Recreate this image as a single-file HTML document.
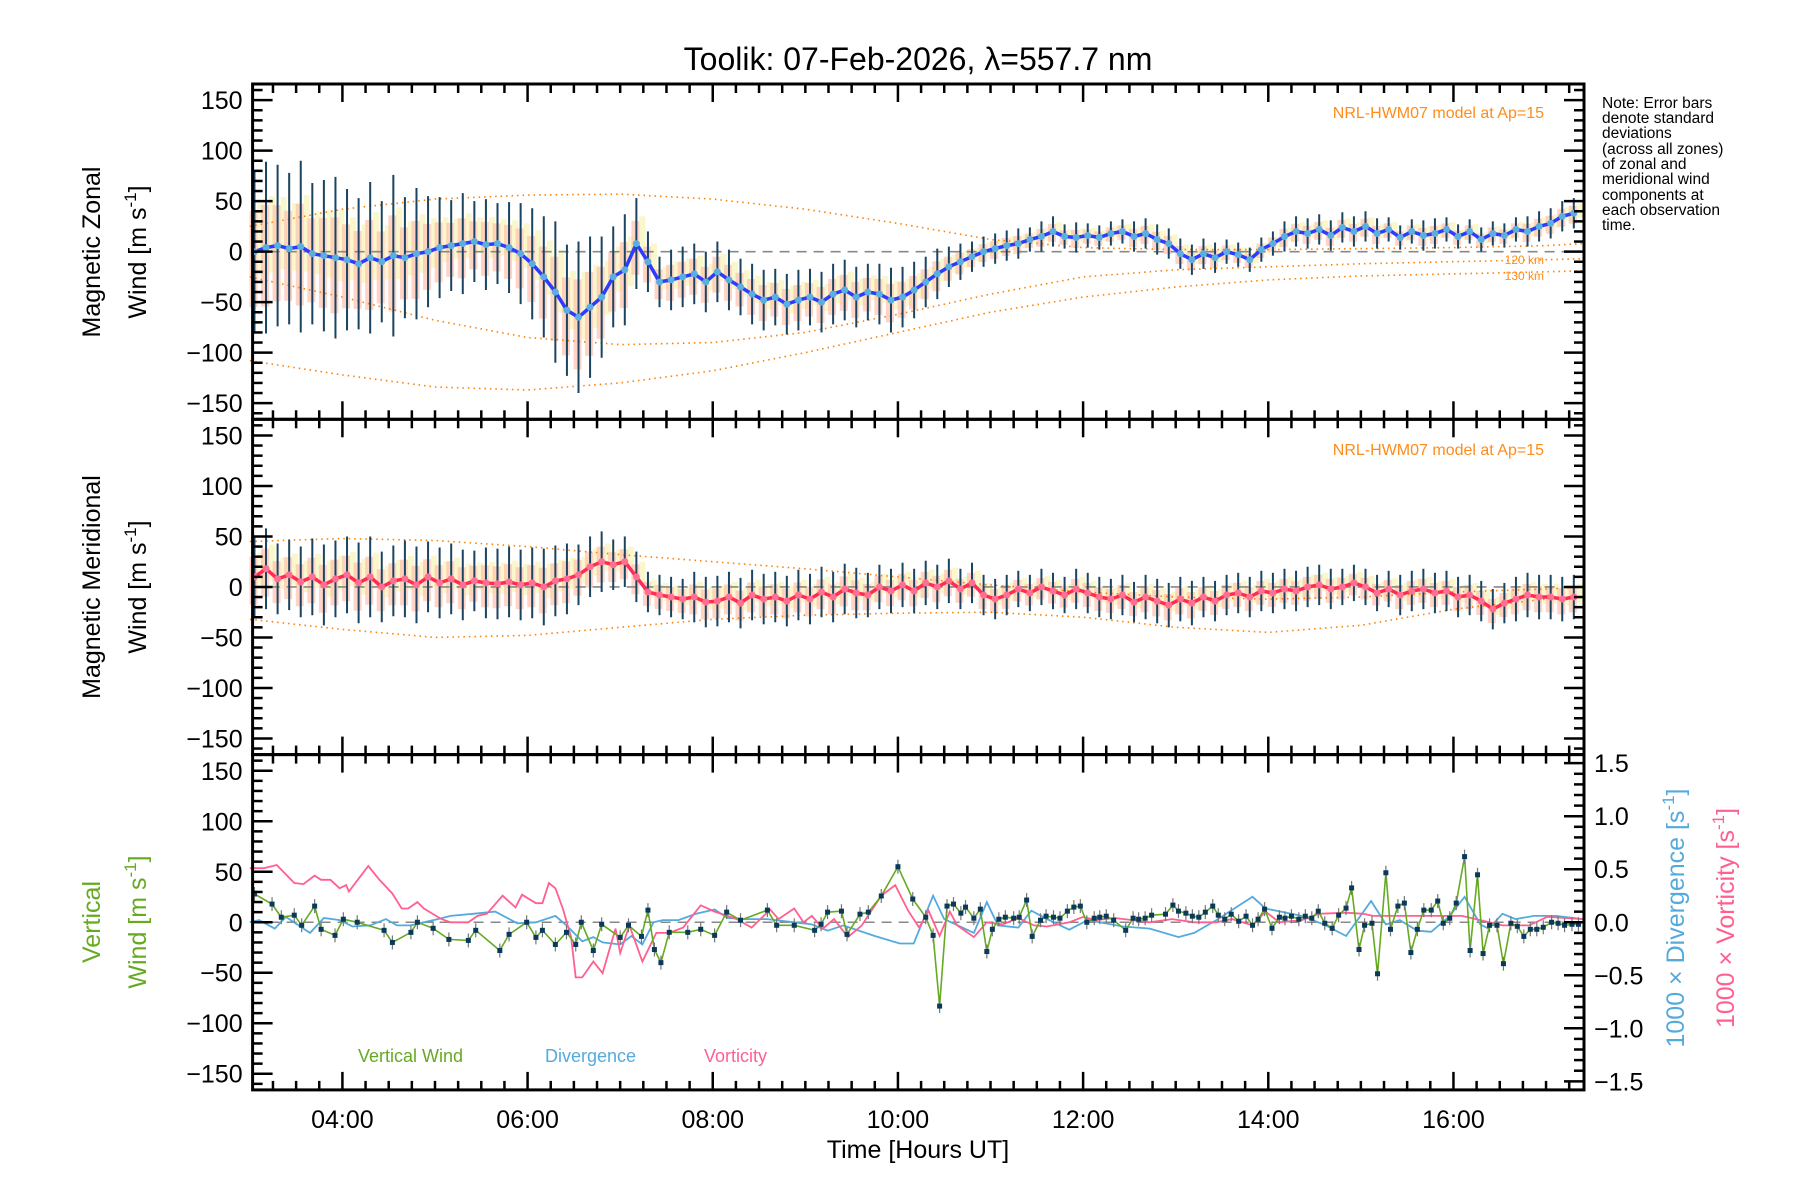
<!DOCTYPE html>
<html><head><meta charset="utf-8"><style>
html,body{margin:0;padding:0;background:#fff;}
svg{display:block;font-family:"Liberation Sans",sans-serif;}
</style></head><body>
<svg id="chart" width="1800" height="1200" viewBox="0 0 1800 1200" xmlns="http://www.w3.org/2000/svg">
<rect x="0" y="0" width="1800" height="1200" fill="#fff"/>
<text x="918" y="70" font-size="32" text-anchor="middle" fill="#000">Toolik: 07-Feb-2026, λ=557.7 nm</text>
<g id="layer-shade"></g><g id="layer-model"></g><g id="layer-err"></g><g id="layer-lines"></g><g id="layer-axes"></g>
<text transform="translate(100,252) rotate(-90)" font-size="25" text-anchor="middle">Magnetic Zonal</text>
<text transform="translate(146,252) rotate(-90)" font-size="25" text-anchor="middle">Wind [m s<tspan dy="-10" font-size="17">-1</tspan><tspan dy="10">]</tspan></text>
<text transform="translate(100,587) rotate(-90)" font-size="25" text-anchor="middle">Magnetic Meridional</text>
<text transform="translate(146,587) rotate(-90)" font-size="25" text-anchor="middle">Wind [m s<tspan dy="-10" font-size="17">-1</tspan><tspan dy="10">]</tspan></text>
<text transform="translate(100,922) rotate(-90)" font-size="25" text-anchor="middle" fill="#66aa22">Vertical</text>
<text transform="translate(146,922) rotate(-90)" font-size="25" text-anchor="middle" fill="#66aa22">Wind [m s<tspan dy="-10" font-size="17">-1</tspan><tspan dy="10">]</tspan></text>
<text transform="translate(1684,918) rotate(-90)" font-size="25" text-anchor="middle" fill="#55aadd">1000 × Divergence [s<tspan dy="-10" font-size="17">-1</tspan><tspan dy="10">]</tspan></text>
<text transform="translate(1734,918) rotate(-90)" font-size="25" text-anchor="middle" fill="#ff6090">1000 × Vorticity [s<tspan dy="-10" font-size="17">-1</tspan><tspan dy="10">]</tspan></text>
<text x="918" y="1158" font-size="25" text-anchor="middle">Time [Hours UT]</text>
<text x="1544" y="118" font-size="16" text-anchor="end" fill="#ff8c1a">NRL-HWM07 model at Ap=15</text>
<text x="1544" y="455" font-size="16" text-anchor="end" fill="#ff8c1a">NRL-HWM07 model at Ap=15</text>
<text x="1544" y="264" font-size="12" text-anchor="end" fill="#ff8c1a">120 km</text>
<text x="1544" y="280" font-size="12" text-anchor="end" fill="#ff8c1a">130 km</text>
<g font-size="15.5" fill="#000">
<text x="1602" y="108">Note: Error bars</text><text x="1602" y="123">denote standard</text><text x="1602" y="138">deviations</text><text x="1602" y="154">(across all zones)</text><text x="1602" y="169">of zonal and</text><text x="1602" y="184">meridional wind</text><text x="1602" y="200">components at</text><text x="1602" y="215">each observation</text><text x="1602" y="230">time.</text>
</g>
<text x="358" y="1062" font-size="18" fill="#66aa22">Vertical Wind</text>
<text x="545" y="1062" font-size="18" fill="#55aadd">Divergence</text>
<text x="704" y="1062" font-size="18" fill="#ff6090">Vorticity</text>
</svg>
<script>
const zonalTimeStart = 3.05, zonalTimeStep = 0.125;
const zonalValues = [0,4,6,3,5,-2,-4,-6, -8,-12,-6,-10,-4,-6,-2,0, 4,6,8,10,7,8,4,-2, -12,-25,-40,-58,-65,-55,-45,-25, -18,8,-10,-30,-28,-25,-22,-30, -20,-28,-35,-42,-48,-45,-52,-48, -45,-50,-42,-38,-45,-40,-42,-48, -45,-38,-30,-22,-15,-10,-5,0, 3,6,8,12,15,20,15,14, 16,14,18,20,15,18,12,8, -2,-8,-2,-6,0,-3,-8,2, 8,15,20,18,22,16,24,20, 25,18,22,14,20,16,18,22, 15,20,12,18,16,22,20,25, 28,35,38];
const zonalErrors = [80,85,80,75,85,70,75,80, 70,65,75,60,80,60,65,55, 50,45,50,40,45,40,45,50, 55,60,70,65,75,70,60,50, 55,45,30,25,30,30,30,30, 30,30,28,30,30,28,30,30, 28,30,30,30,30,28,30,32, 30,28,25,25,20,18,15,15, 15,15,15,12,15,15,12,15, 12,12,12,12,15,15,15,15, 15,15,15,15,12,12,12,12, 12,15,15,15,15,15,15,15, 15,15,12,12,12,15,15,12, 12,12,12,12,12,12,15,15, 15,15,15];
const meridValues = [10,18,8,12,5,10,2,8, 12,4,10,0,6,8,2,10, 4,8,2,6,4,3,5,2, 4,0,6,8,12,20,25,22, 25,10,-5,-8,-10,-12,-10,-15, -14,-10,-16,-8,-12,-10,-14,-8, -12,-5,-10,-2,-6,-8,0,-4, 2,-4,4,0,6,-2,4,-8, -12,-8,-2,-6,0,-4,-8,-2, -6,-10,-12,-8,-15,-10,-14,-18, -12,-16,-10,-14,-8,-6,-10,-4, -6,-2,-4,0,2,-2,0,4, 0,-6,-2,-8,-4,-2,-6,-4, -10,-8,-14,-22,-16,-12,-8,-10, -10,-12,-10];
const meridErrors = [40,40,35,35,35,38,40,38, 38,40,40,35,35,38,38,35, 35,35,35,30,35,35,35,35, 35,38,35,35,30,30,30,25, 25,25,20,20,20,20,25,25, 25,25,25,25,25,25,25,25, 25,25,25,25,25,22,22,22, 22,22,22,22,22,20,20,20, 20,20,18,18,18,18,18,20, 20,20,20,20,20,22,22,22, 22,22,20,20,20,20,20,20, 20,20,20,20,20,20,18,18, 18,18,18,20,20,20,20,20, 20,20,20,20,20,22,22,22, 22,22,22];
const modelTimes = [3,4,5,6,7,8,9,10,11,12,13,14,15,16,17,17.4];
const zonalModelA = [25,42,52,56,57,52,42,28,12,4,2,2,3,4,6,8];
const zonalModelB = [-25,-45,-68,-85,-92,-90,-80,-62,-42,-25,-18,-15,-12,-10,-8,-7];
const zonalModelC = [-108,-122,-134,-137,-130,-118,-100,-80,-60,-45,-35,-28,-24,-22,-20,-19];
const meridModelA = [45,48,46,40,32,25,18,10,2,-5,-10,-12,-10,-5,-2,0];
const meridModelB = [-32,-42,-50,-48,-40,-32,-28,-26,-25,-30,-40,-45,-38,-22,-12,-10];
const vertTimes = [3.05,3.24,3.34,3.48,3.56,3.70,3.77,3.92,4.01,4.16,4.45,4.54,4.74,4.81,4.98,5.15,5.36,5.44,5.70,5.80,5.99,6.09,6.16,6.30,6.42,6.52,6.58,6.71,6.80,7.00,7.09,7.23,7.30,7.37,7.44,7.53,7.73,7.87,8.02,8.15,8.30,8.59,8.69,8.88,9.10,9.17,9.24,9.39,9.45,9.59,9.68,9.82,10.00,10.16,10.30,10.38,10.45,10.53,10.60,10.68,10.73,10.82,10.89,10.96,11.02,11.09,11.16,11.25,11.31,11.39,11.45,11.54,11.60,11.68,11.75,11.83,11.90,11.97,12.04,12.12,12.18,12.25,12.33,12.46,12.54,12.60,12.67,12.74,12.89,12.97,13.03,13.11,13.18,13.25,13.32,13.40,13.46,13.53,13.60,13.68,13.76,13.83,13.89,13.96,14.04,14.12,14.18,14.25,14.33,14.40,14.47,14.54,14.61,14.69,14.76,14.84,14.90,14.98,15.04,15.12,15.18,15.27,15.32,15.40,15.47,15.54,15.61,15.68,15.76,15.83,15.89,15.96,16.03,16.12,16.18,16.26,16.32,16.39,16.47,16.54,16.62,16.69,16.76,16.83,16.90,16.97,17.06,17.13,17.20,17.28,17.35];
const vertValues = [28,18,5,7,-3,16,-7,-13,3,0,-8,-20,-10,0,-6,-17,-18,-8,-28,-12,0,-15,-8,-22,-10,-22,0,-28,-2,-15,-3,-14,12,-27,-40,-10,-10,-7,-13,10,2,12,-3,-3,-8,-2,10,11,-12,8,10,26,55,23,5,-13,-83,16,18,9,15,4,13,-29,-7,3,5,4,5,22,-14,2,6,5,4,11,15,16,0,4,5,6,2,-8,4,3,4,7,8,17,11,9,6,5,10,16,7,3,8,1,6,-3,3,13,-6,5,4,6,3,6,4,11,-1,-6,7,14,34,-27,-3,-1,-51,49,-7,16,19,-30,-7,12,12,21,-1,4,19,65,-28,47,-31,-3,-3,-41,-1,-4,-14,-7,-7,-5,0,-1,-3,-2,-2];
const divTimes = [3.00,3.10,3.27,3.39,3.51,3.65,3.80,3.97,4.11,4.30,4.47,4.59,4.74,4.88,5.03,5.17,5.41,5.65,5.89,6.09,6.30,6.42,6.59,6.71,6.81,7.00,7.12,7.24,7.36,7.46,7.63,7.82,8.02,8.16,8.35,8.59,8.88,9.07,9.24,9.41,9.75,10.02,10.17,10.38,10.50,10.82,10.96,11.08,11.30,11.44,11.61,11.85,12.05,12.43,12.72,13.03,13.20,13.44,13.83,13.97,14.36,14.60,14.84,15.11,15.27,15.42,15.61,15.76,15.95,16.12,16.29,16.38,16.53,16.67,16.87,17.11,17.40];
const divValues = [0,0.02,-0.06,0.05,-0.02,-0.1,0.04,0.02,-0.04,-0.03,0.03,-0.03,-0.03,0,0.03,0.06,0.08,0.1,-0.01,0,0.06,-0.03,-0.18,-0.14,-0.19,-0.21,-0.13,-0.21,0,0.02,0.02,0.08,0.12,0.04,0.03,0.03,0,-0.02,-0.08,-0.03,-0.13,-0.2,-0.2,0.25,0.03,-0.1,0.19,-0.03,-0.05,0.11,0.03,-0.07,0.02,-0.04,-0.06,-0.14,-0.1,0.02,0.24,0.13,0.06,-0.02,-0.13,0.2,-0.02,0.02,-0.08,-0.09,0.05,0.24,-0.02,-0.06,0.08,0.03,0.06,0.06,0.03];
const vortTimes = [3.00,3.15,3.29,3.48,3.58,3.70,3.77,3.87,3.97,4.04,4.07,4.28,4.40,4.54,4.64,4.71,4.81,4.88,5.07,5.17,5.36,5.46,5.56,5.73,5.87,5.94,6.09,6.16,6.23,6.30,6.38,6.47,6.52,6.59,6.71,6.81,6.95,7.00,7.10,7.24,7.39,7.53,7.68,7.87,8.02,8.16,8.26,8.42,8.62,8.71,8.88,8.98,9.07,9.19,9.31,9.46,9.61,9.82,9.97,10.11,10.23,10.33,10.45,10.56,10.64,10.82,10.96,11.13,11.30,11.47,11.61,11.85,12.00,12.14,12.34,12.53,12.72,12.96,13.20,13.44,13.61,13.83,13.97,14.12,14.36,14.55,14.84,15.03,15.13,15.42,15.66,16.09,16.29,16.53,16.82,17.01,17.40];
const vortValues = [0.51,0.51,0.54,0.37,0.36,0.44,0.40,0.40,0.32,0.35,0.29,0.53,0.40,0.27,0.13,0.13,0.19,0.13,0.03,0,0,0.06,0.08,0.25,0.14,0.26,0.18,0.18,0.37,0.32,0.13,-0.14,-0.52,-0.52,-0.37,-0.48,-0.06,-0.29,-0.03,-0.37,-0.1,-0.1,-0.05,0.16,0.10,0.06,0.03,-0.05,0.12,0.03,0.13,0,0.06,-0.06,0.03,-0.14,-0.03,0.25,0.35,0.11,-0.05,0.11,-0.13,0.1,-0.03,-0.14,0,-0.02,0.04,-0.03,-0.04,0,0.05,0.02,0.04,0.02,0,0.03,0,0,0.03,-0.03,0.10,0,0.02,0.08,0.09,0.08,0.06,0.06,0.06,0.06,0.02,-0.03,-0.03,0.05,0.03];
const xTickLabels = ["04:00","06:00","08:00","10:00","12:00","14:00","16:00"];
const yTickLabels = ["150","100","50","0","−50","−100","−150"];
const rightTickLabels = ["1.5","1.0","0.5","0.0","−0.5","−1.0","−1.5"];

const NS="http://www.w3.org/2000/svg";
const L=252.6,R=1584,T0=84,PH=335.3,XMIN=3.03,XMAX=17.41,YR=166;
const panelTops=[T0,T0+PH,T0+2*PH];
function xs(t){return L+(t-XMIN)/(XMAX-XMIN)*(R-L);}
function ys(p,v){return panelTops[p]+PH/2-v/YR*(PH/2);}
function yr(v){return ys(2,v*105);}
function mk(tag,attrs,parent){const e=document.createElementNS(NS,tag);for(const k in attrs)e.setAttribute(k,attrs[k]);parent.appendChild(e);return e;}
const gS=document.getElementById('layer-shade'),gM=document.getElementById('layer-model'),gE=document.getElementById('layer-err'),gL=document.getElementById('layer-lines'),gA=document.getElementById('layer-axes');
function polyPts(ts,vs,fy){return ts.map((t,i)=>xs(t).toFixed(1)+','+fy(vs[i]).toFixed(1)).join(' ');}
const zonalTimes=zonalValues.map((v,i)=>zonalTimeStart+i*zonalTimeStep);

function drawWind(p,vals,errs,lineColor,dotColor){
  const fy=v=>ys(p,v);
  vals.forEach((v,i)=>{
    const x=xs(zonalTimes[i]);
    let r=mk('rect',{x:x-5,y:fy(v+errs[i]*0.5),width:8,height:errs[i]*1.2,fill:'#ffb8a0',opacity:0.6},gS);
    
    
    let r2=mk('rect',{x:x+3,y:fy(v+errs[i]*0.6),width:6,height:errs[i]*0.9,fill:'#f4f0a0',opacity:0.55},gS);
    
    
    let e=mk('line',{x1:x,x2:x,y1:fy(v+errs[i]),y2:fy(v-errs[i]),stroke:'#1a4460','stroke-width':2},gE);
    
    
  });
  let pl=mk('polyline',{points:polyPts(zonalTimes,vals,fy),fill:'none',stroke:lineColor,'stroke-width':3.5},gL);
  
  
  vals.forEach((v,i)=>{
    let c=mk('circle',{cx:xs(zonalTimes[i]),cy:fy(v),r:3.5,fill:dotColor},gL);
    
    
  });
}
function model(p,vals){
  let m=mk('polyline',{points:polyPts(modelTimes,vals,v=>ys(p,v)),fill:'none',stroke:'#ff8000','stroke-width':1.6,'stroke-dasharray':'1.5 4'},gM);
  
  
}
[0,1,2].forEach(p=>{
  let z=mk('line',{x1:L,x2:R,y1:ys(p,0),y2:ys(p,0),stroke:'#888','stroke-width':1.6,'stroke-dasharray':'10 7'},gM);
  
  
});
model(0,zonalModelA);model(0,zonalModelB);model(0,zonalModelC);
model(1,meridModelA);model(1,meridModelB);
drawWind(0,zonalValues,zonalErrors,'#2a3cff','#5aaee0');
drawWind(1,meridValues,meridErrors,'#ff2a5a','#ff7090');
let dv=mk('polyline',{points:polyPts(divTimes,divValues,yr),fill:'none',stroke:'#55aadd','stroke-width':1.8},gL);


let vt=mk('polyline',{points:polyPts(vortTimes,vortValues,yr),fill:'none',stroke:'#ff6090','stroke-width':1.8},gL);


let vw=mk('polyline',{points:polyPts(vertTimes,vertValues,v=>ys(2,v)),fill:'none',stroke:'#66aa22','stroke-width':1.6},gL);


vertValues.forEach((v,i)=>{
  const x=xs(vertTimes[i]),y=ys(2,v);
  let e=mk('line',{x1:x,x2:x,y1:y-7,y2:y+7,stroke:'#777','stroke-width':1.2},gL);
  
  
  let s=mk('rect',{x:x-2.5,y:y-2.5,width:5,height:5,fill:'#0a3a5a'},gL);
  
  
});
[0,1,2].forEach(p=>{
  const top=panelTops[p],bot=top+PH;
  let fr=mk('rect',{x:L,y:top,width:R-L,height:PH,fill:'none',stroke:'#000','stroke-width':3},gA);
  
  
  for(let v=-160;v<=160;v+=10){
    const y=ys(p,v),len=(v%50===0)?20:10;
    mk('line',{x1:L,x2:L+len,y1:y,y2:y,stroke:'#000','stroke-width':2.5},gA);
    if(p<2) mk('line',{x1:R,x2:R-len,y1:y,y2:y,stroke:'#000','stroke-width':2.5},gA);
  }
  yTickLabels.forEach((lab,i)=>{
    let t=mk('text',{x:L-10,y:ys(p,150-i*50)+9,'font-size':25,'text-anchor':'end'},gA);
    t.textContent=lab;
    
    
  });
  for(let h=3.25;h<XMAX;h+=0.25){
    const x=xs(h),major=Math.abs(h/2-Math.round(h/2))<1e-6,len=major?18:9;
    mk('line',{x1:x,x2:x,y1:bot,y2:bot-len,stroke:'#000','stroke-width':2.5},gA);
    mk('line',{x1:x,x2:x,y1:top,y2:top+len,stroke:'#000','stroke-width':2.5},gA);
  }
});
for(let k=-15;k<=15;k++){
  const y=yr(k/10),len=(k%5===0)?20:10;
  mk('line',{x1:R,x2:R-len,y1:y,y2:y,stroke:'#000','stroke-width':2.5},gA);
}
rightTickLabels.forEach((lab,i)=>{
  let t=mk('text',{x:R+10,y:yr(1.5-i*0.5)+9,'font-size':25},gA);
  t.textContent=lab;
  
  
});
xTickLabels.forEach((lab,i)=>{
  let t=mk('text',{x:xs(4+2*i),y:1128,'font-size':25,'text-anchor':'middle'},gA);
  t.textContent=lab;
  
  
});
</script>
</body></html>
